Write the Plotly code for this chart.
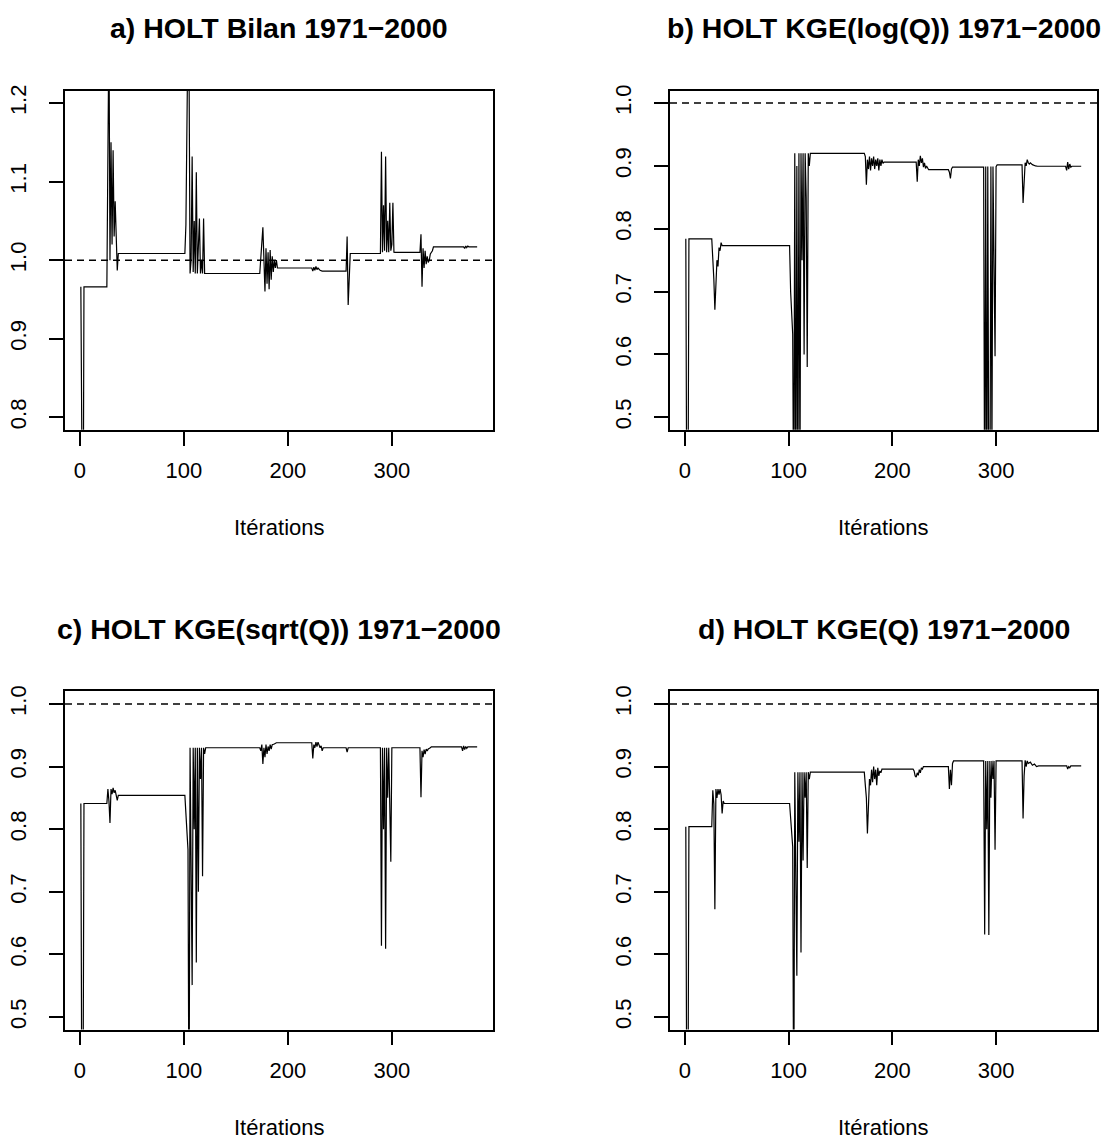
import plotly.graph_objects as go

# ---------------- data (iteration, value) ----------------
a_iter = [1, 2, 3, 4, 26, 28, 29, 30, 31, 32,
          33, 34, 35, 36, 37, 101, 102, 104, 105, 106,
          107, 108, 109, 110, 111, 112, 113, 114, 115, 116,
          117, 118, 119, 120, 121, 173, 176, 177, 178, 179,
          180, 181, 182, 183, 184, 185, 186, 187, 188, 189,
          190, 192, 223, 224, 225, 226, 227, 228, 229, 231,
          233, 256, 257, 258, 259, 260, 289, 290, 291, 292,
          293, 294, 295, 296, 297, 298, 299, 300, 301, 302,
          303, 327, 328, 329, 330, 331, 332, 333, 334, 335,
          336, 337, 339, 340, 369, 370, 371, 372, 373, 374,
          382]
a_val = [0.966, 0.55, 0.55, 0.966, 0.966, 1.30, 1.00, 1.15, 1.02, 1.14,
         1.03, 1.075, 1.02, 0.987, 1.0085, 1.0085, 1.045, 1.30, 1.25, 0.983,
         1.00, 1.132, 0.985, 1.05, 0.983, 1.112, 0.983, 1.02, 1.053, 0.983,
         1.00, 0.983, 1.053, 0.983, 0.983, 0.983, 1.042, 1.00, 0.96, 1.015,
         0.97, 1.01, 0.963, 1.013, 0.975, 1.005, 0.985, 1.00, 0.99, 1.00,
         0.99, 0.99, 0.99, 0.986, 0.991, 0.987, 0.992, 0.988, 0.99, 0.987,
         0.986, 0.986, 1.03, 0.943, 0.97, 1.0085, 1.0085, 1.138, 1.01, 1.07,
         1.012, 1.132, 1.01, 1.05, 1.01, 1.073, 1.012, 1.02, 1.073, 1.01,
         1.0098, 1.0098, 1.033, 0.966, 1.015, 0.99, 1.012, 0.995, 1.005, 0.997,
         1.00, 1.008, 1.012, 1.017, 1.017, 1.015, 1.018, 1.016, 1.018, 1.017,
         1.017]

b_iter = [1, 2, 3, 4, 26, 27, 28, 29, 30, 31,
          32, 33, 34, 35, 36, 101, 102, 104, 105, 106,
          107, 108, 109, 110, 111, 112, 113, 114, 115, 116,
          117, 118, 119, 120, 121, 173, 174, 175, 176, 177,
          178, 179, 180, 181, 182, 183, 184, 185, 186, 187,
          188, 189, 190, 191, 192, 223, 224, 225, 226, 227,
          228, 229, 230, 231, 232, 233, 235, 254, 255, 256,
          257, 258, 288, 289, 290, 291, 292, 293, 294, 295,
          296, 297, 299, 300, 301, 325, 326, 327, 328, 329,
          330, 331, 332, 333, 335, 338, 340, 367, 368, 369,
          370, 371, 372, 373, 382]
b_val = [0.784, 0.30, 0.30, 0.784, 0.784, 0.76, 0.72, 0.671, 0.727, 0.75,
         0.74, 0.77, 0.765, 0.778, 0.773, 0.773, 0.70, 0.632, 0.30, 0.92,
         0.30, 0.90, 0.35, 0.92, 0.40, 0.92, 0.75, 0.92, 0.60, 0.92,
         0.85, 0.58, 0.92, 0.90, 0.92, 0.92, 0.915, 0.870, 0.91, 0.895,
         0.915, 0.893, 0.912, 0.90, 0.915, 0.895, 0.91, 0.90, 0.912, 0.893,
         0.91, 0.90, 0.91, 0.904, 0.906, 0.906, 0.875, 0.91, 0.90, 0.916,
         0.905, 0.912, 0.898, 0.905, 0.896, 0.90, 0.894, 0.894, 0.890, 0.880,
         0.895, 0.898, 0.898, 0.30, 0.899, 0.30, 0.899, 0.35, 0.30, 0.899,
         0.45, 0.899, 0.597, 0.899, 0.9016, 0.9016, 0.841, 0.88, 0.905, 0.90,
         0.91, 0.905, 0.903, 0.905, 0.902, 0.90, 0.8995, 0.8995, 0.893, 0.906,
         0.895, 0.903, 0.898, 0.8995, 0.8995]

c_iter = [1, 2, 3, 4, 26, 27, 28, 29, 30, 31,
          32, 33, 34, 35, 36, 37, 101, 104, 105, 106,
          107, 108, 109, 110, 111, 112, 113, 114, 115, 116,
          117, 118, 119, 120, 121, 173, 174, 175, 176, 177,
          178, 179, 180, 181, 182, 183, 184, 185, 187, 189,
          223, 224, 225, 226, 227, 228, 229, 230, 231, 232,
          233, 234, 256, 257, 258, 289, 290, 291, 292, 293,
          294, 295, 296, 297, 299, 300, 327, 328, 329, 330,
          331, 332, 333, 334, 335, 337, 338, 367, 368, 369,
          370, 371, 372, 373, 382]
c_val = [0.841, 0.30, 0.30, 0.841, 0.841, 0.864, 0.845, 0.81, 0.864, 0.856,
         0.866, 0.858, 0.862, 0.855, 0.846, 0.854, 0.854, 0.767, 0.30, 0.93,
         0.75, 0.551, 0.93, 0.80, 0.93, 0.587, 0.93, 0.70, 0.93, 0.88,
         0.93, 0.725, 0.93, 0.92, 0.93, 0.93, 0.925, 0.935, 0.904, 0.93,
         0.915, 0.935, 0.92, 0.932, 0.925, 0.935, 0.928, 0.935, 0.936, 0.938,
         0.938, 0.913, 0.935, 0.93, 0.939, 0.932, 0.939, 0.935, 0.93, 0.933,
         0.925, 0.93, 0.93, 0.923, 0.93, 0.93, 0.614, 0.93, 0.80, 0.93,
         0.609, 0.93, 0.85, 0.93, 0.748, 0.93, 0.93, 0.851, 0.925, 0.915,
         0.927, 0.92, 0.928, 0.925, 0.928, 0.93, 0.9315, 0.9315, 0.925, 0.933,
         0.927, 0.932, 0.929, 0.9315, 0.9315]

d_iter = [1, 2, 3, 4, 26, 27, 28, 29, 30, 31,
          32, 33, 34, 35, 36, 37, 38, 101, 104, 105,
          106, 107, 108, 109, 110, 111, 112, 113, 114, 115,
          116, 117, 118, 119, 120, 121, 173, 174, 175, 176,
          177, 178, 179, 180, 181, 182, 183, 184, 185, 186,
          187, 188, 189, 190, 220, 221, 222, 223, 224, 225,
          226, 227, 228, 229, 230, 254, 255, 256, 257, 258,
          259, 288, 289, 290, 291, 292, 293, 294, 295, 296,
          297, 298, 299, 300, 325, 326, 327, 328, 329, 330,
          331, 333, 335, 337, 339, 341, 368, 369, 370, 371,
          372, 382]
d_val = [0.804, 0.30, 0.30, 0.804, 0.804, 0.862, 0.84, 0.672, 0.864, 0.85,
         0.864, 0.855, 0.864, 0.855, 0.825, 0.845, 0.841, 0.841, 0.772, 0.30,
         0.891, 0.70, 0.566, 0.891, 0.78, 0.891, 0.603, 0.891, 0.75, 0.891,
         0.85, 0.891, 0.738, 0.891, 0.88, 0.891, 0.891, 0.87, 0.85, 0.793,
         0.86, 0.88, 0.87, 0.895, 0.875, 0.90, 0.88, 0.895, 0.87, 0.898,
         0.885, 0.893, 0.89, 0.896, 0.896, 0.893, 0.885, 0.883, 0.89, 0.886,
         0.895, 0.89, 0.898, 0.896, 0.90, 0.90, 0.864, 0.895, 0.87, 0.905,
         0.909, 0.909, 0.632, 0.909, 0.80, 0.909, 0.631, 0.909, 0.85, 0.909,
         0.88, 0.909, 0.767, 0.909, 0.909, 0.817, 0.885, 0.91, 0.90, 0.909,
         0.905, 0.907, 0.902, 0.904, 0.90, 0.901, 0.901, 0.896, 0.90, 0.898,
         0.901, 0.901]

titles = ["a) HOLT Bilan 1971\u22122000",
          "b) HOLT KGE(log(Q)) 1971\u22122000",
          "c) HOLT KGE(sqrt(Q)) 1971\u22122000",
          "d) HOLT KGE(Q) 1971\u22122000"]
x_label = "Itérations"
x_ticks = [0, 100, 200, 300]
y_ticks_a = [0.8, 0.9, 1.0, 1.1, 1.2]
y_ticks_bcd = [0.5, 0.6, 0.7, 0.8, 0.9, 1.0]
reference_level = 1.0

# ---------------- layout ----------------
W, H = 1105, 1142
FONT = "Liberation Sans, Arial, Helvetica, sans-serif"
# plot boxes in pixels: left, right, top, bottom
boxes = [(65, 493, 85, 426), (670, 1097, 85, 426),
         (65, 493, 689, 1029), (670, 1097, 689, 1029)]
series = [(a_iter, a_val), (b_iter, b_val), (c_iter, c_val), (d_iter, d_val)]
yranges = [[0.784, 1.216], [0.48, 1.02], [0.48, 1.02], [0.48, 1.02]]
yticks = [y_ticks_a, y_ticks_bcd, y_ticks_bcd, y_ticks_bcd]
xrange_ = [-14.24, 397.24]

fig = go.Figure()
annotations = []
shapes = []
for i, ((l, r, t, b), (xs, ys)) in enumerate(zip(boxes, series)):
    n = "" if i == 0 else str(i + 1)
    fig.add_trace(go.Scatter(x=xs, y=ys, mode="lines",
                             line=dict(color="black", width=1.2),
                             xaxis="x" + n, yaxis="y" + n,
                             showlegend=False, hoverinfo="skip"))
    common = dict(showline=True, linecolor="black", linewidth=1.5, mirror=True,
                  ticks="outside", ticklen=14, tickwidth=1.5, tickcolor="black",
                  showgrid=False, zeroline=False,
                  tickfont=dict(family=FONT, size=22, color="black"))
    fig.layout["xaxis" + n] = dict(domain=[l / W, r / W], range=xrange_,
                                   tickvals=x_ticks, anchor="y" + n,
                                   ticklabelstandoff=6, **common)
    fig.layout["yaxis" + n] = dict(domain=[1 - b / H, 1 - t / H], range=yranges[i],
                                   tickvals=yticks[i],
                                   ticktext=[f"{v:.1f}" for v in yticks[i]],
                                   tickangle=-90, anchor="x" + n,
                                   ticklabelstandoff=14, **common)
    shapes.append(dict(type="line", xref=f"x{n} domain", yref="y" + n,
                       x0=0, x1=1, y0=reference_level, y1=reference_level,
                       line=dict(color="black", width=1.5, dash="7px,5px")))
    cx = (l + r) / 2 / W
    title_y = t - 63
    annotations.append(dict(text="<b>" + titles[i] + "</b>", xref="paper", yref="paper",
                            x=cx, y=1 - title_y / H, xanchor="center", yanchor="middle",
                            showarrow=False,
                            font=dict(family=FONT, size=28.5, color="black")))
    annotations.append(dict(text=x_label, xref="paper", yref="paper",
                            x=cx, y=1 - (b + 98) / H, xanchor="center", yanchor="middle",
                            showarrow=False,
                            font=dict(family=FONT, size=22, color="black")))

fig.update_layout(width=W, height=H, margin=dict(l=0, r=0, t=0, b=0),
                  paper_bgcolor="white", plot_bgcolor="white",
                  annotations=annotations, shapes=shapes, showlegend=False)

fig.write_html("out.html")
